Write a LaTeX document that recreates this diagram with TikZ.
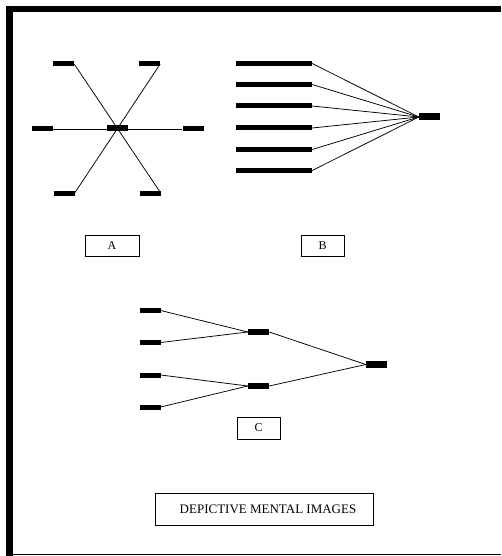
\documentclass[tikz,border=0pt]{standalone}
\usepackage{fontspec}
\setmainfont{Liberation Serif}
\begin{document}
\begin{tikzpicture}[x=1pt,y=-1pt,
  bar/.style={fill=black,draw=none,inner sep=0pt,minimum width=21pt,minimum height=5pt},
  longbar/.style={bar,minimum width=76pt},
  hub/.style={bar,minimum height=7pt},
  conn/.style={draw=black,line width=0.75pt},
  labelbox/.style={draw=black,line width=0.8pt,inner sep=0pt,font=\fontsize{12}{14}\selectfont},
  frame/.style={fill=black,draw=none}]
\useasboundingbox (0,0) rectangle (501,556);
% frame
\fill[frame] (6,6) rectangle (13,556);
\fill[frame] (6,6) rectangle (501,12);
\draw[line width=1pt] (13,554.5) -- (501,554.5);
% Panel A
\node[bar] (atl) at (63.5,64) {};
\node[bar] (atr) at (149.5,64) {};
\node[bar] (al) at (42.5,129) {};
\node[bar,minimum height=6pt] (ac) at (117.5,128.5) {};
\node[bar] (ar) at (193,129) {};
\node[bar] (abl) at (64,193) {};
\node[bar] (abr) at (150,193) {};
\draw[conn] (atl.east) -- (abr.east);
\draw[conn] (atr.east) -- (abl.east);
\draw[conn] (al.east) -- (ar.west);
% Panel B
\node[longbar] (b1) at (274,63.5) {};
\node[longbar] (b2) at (274,84.5) {};
\node[longbar] (b3) at (274,106) {};
\node[longbar] (b4) at (274,128) {};
\node[longbar] (b5) at (274,149.5) {};
\node[longbar] (b6) at (274,170.5) {};
\node[hub] (bh) at (429.5,117) {};
\foreach \i in {1,...,6} {\draw[conn] (b\i.east) -- (bh.west);}
% Labels A, B
\node[labelbox,minimum width=54pt,minimum height=21pt] (la) at (112,245.5) {A};
\node[labelbox,minimum width=43pt,minimum height=21pt] (lb) at (322.5,245.5) {B};
% Panel C
\node[bar] (c1) at (150,310.5) {};
\node[bar] (c2) at (150,342.5) {};
\node[bar] (c3) at (150,375) {};
\node[bar] (c4) at (150,407) {};
\node[bar,minimum height=6pt] (cm1) at (258.5,332) {};
\node[bar,minimum height=6pt] (cm2) at (258.5,386) {};
\node[hub] (cr) at (376.5,364.5) {};
\draw[conn] (c1.east) -- (cm1.west);
\draw[conn] (c2.east) -- (cm1.west);
\draw[conn] (c3.east) -- (cm2.west);
\draw[conn] (c4.east) -- (cm2.west);
\draw[conn] (cm1.east) -- (cr.west);
\draw[conn] (cm2.east) -- (cr.west);
\node[labelbox,minimum width=43pt,minimum height=22pt] (lc) at (258.5,428) {C};
% title box
\node[labelbox,minimum width=218pt,minimum height=32pt,font=\fontsize{13}{15}\selectfont] (title) at (264,509) {\hspace*{8pt}DEPICTIVE MENTAL IMAGES};
\end{tikzpicture}
\end{document}
